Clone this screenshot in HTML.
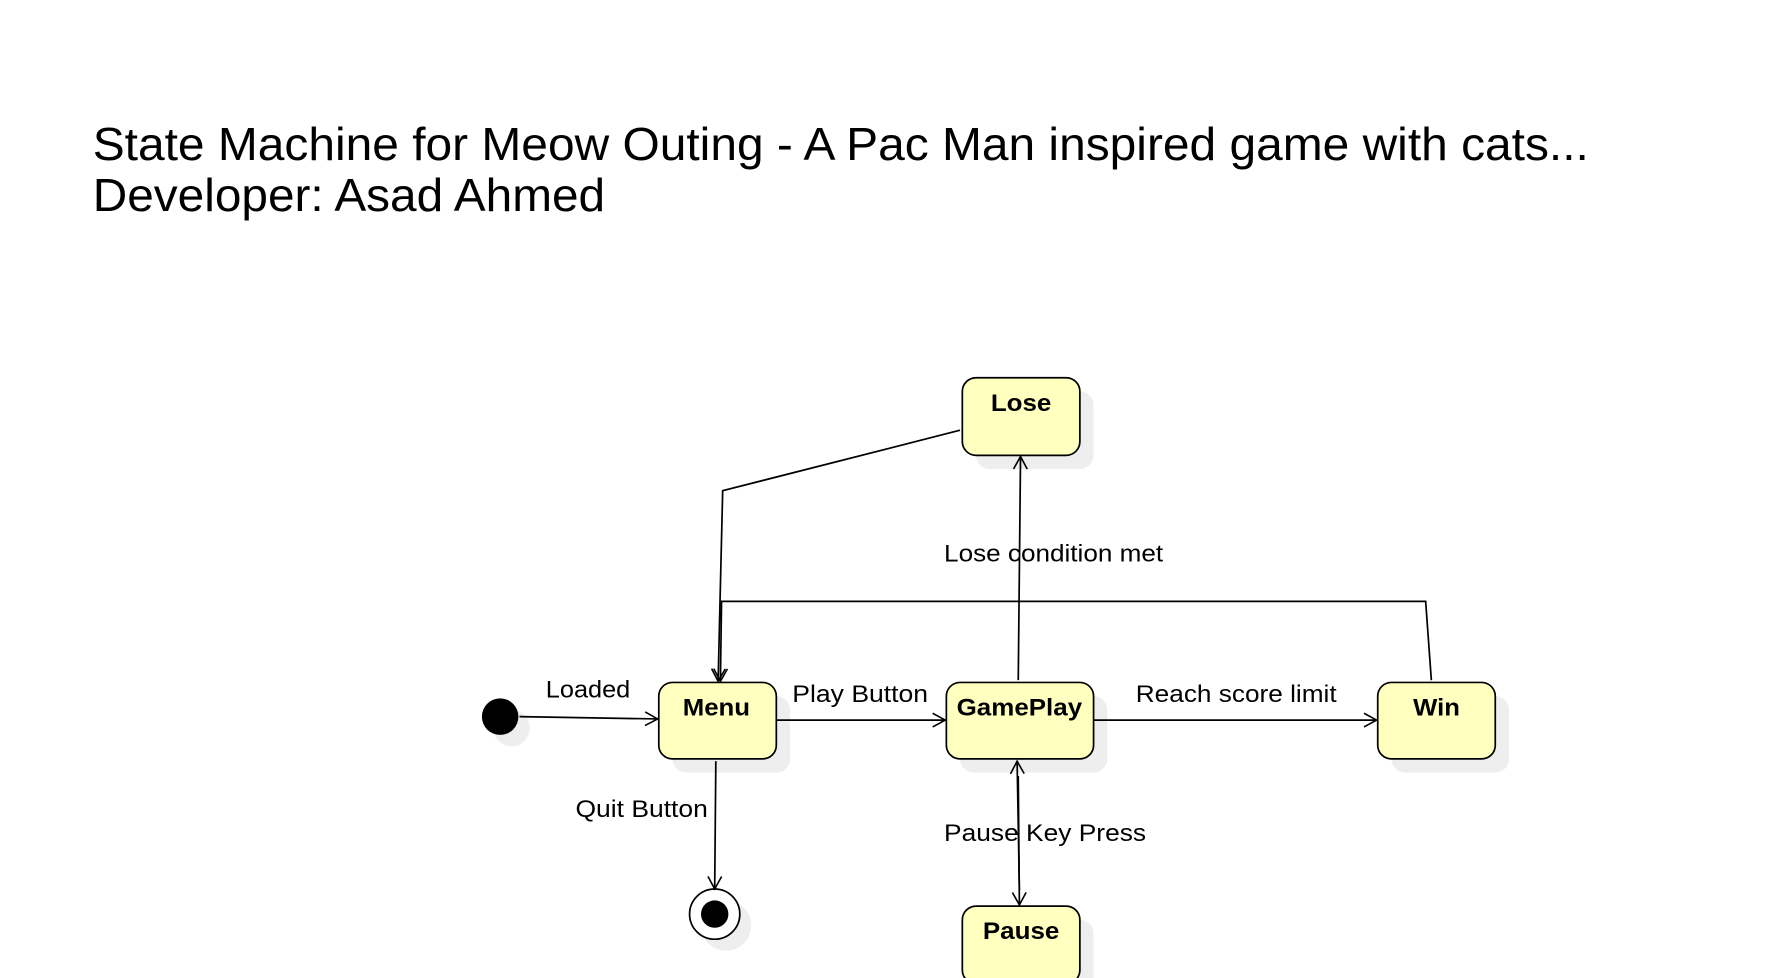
<!DOCTYPE html>
<html><head><meta charset="utf-8"><style>html,body{margin:0;padding:0;background:#fff}svg{display:block}</style></head>
<body>
<svg width="1790" height="978" viewBox="0 0 1568 857" xmlns="http://www.w3.org/2000/svg" font-family="Liberation Sans, sans-serif">
<defs>
<marker id="a" markerWidth="14" markerHeight="14" refX="12" refY="7" orient="auto" markerUnits="userSpaceOnUse"><path d="M1,1 L12,7 L1,13" fill="none" stroke="#000" stroke-width="1.4"/></marker>
</defs>
<rect width="1568" height="857" fill="#fff"/>
<text x="81" y="140" font-size="41" fill="#000" textLength="1311" lengthAdjust="spacingAndGlyphs">State Machine for Meow Outing - A Pac Man inspired game with cats...</text>
<text x="81" y="185" font-size="41" fill="#000" textLength="449" lengthAdjust="spacingAndGlyphs">Developer: Asad Ahmed</text>
<g fill="#eeeeee">
<rect x="855" y="343" width="103" height="68" rx="12"/>
<rect x="589" y="610" width="103" height="67" rx="12"/>
<rect x="841" y="610" width="129" height="67" rx="12"/>
<rect x="1219" y="610" width="103" height="67" rx="12"/>
<rect x="855" y="806" width="103" height="68" rx="12"/>
<circle cx="448" cy="638" r="16"/>
<circle cx="636" cy="811" r="22"/>
</g>
<g fill="#ffffc0" stroke="#000" stroke-width="1.5">
<rect x="843" y="331" width="103" height="68" rx="12"/>
<rect x="577" y="598" width="103" height="67" rx="12"/>
<rect x="829" y="598" width="129" height="67" rx="12"/>
<rect x="1207" y="598" width="103" height="67" rx="12"/>
<rect x="843" y="794" width="103" height="68" rx="12"/>
</g>
<g font-size="21" font-weight="bold">
<text x="868" y="360" textLength="53" lengthAdjust="spacingAndGlyphs">Lose</text>
<text x="598" y="627" textLength="59" lengthAdjust="spacingAndGlyphs">Menu</text>
<text x="838" y="627" textLength="110" lengthAdjust="spacingAndGlyphs">GamePlay</text>
<text x="1238" y="627" textLength="41" lengthAdjust="spacingAndGlyphs">Win</text>
<text x="861" y="823" textLength="67" lengthAdjust="spacingAndGlyphs">Pause</text>
</g>
<circle cx="438" cy="628" r="16" fill="#000"/>
<circle cx="626" cy="801" r="22" fill="#fff" stroke="#000" stroke-width="1.5"/>
<circle cx="626" cy="801" r="12" fill="#000"/>
<g fill="none" stroke="#000" stroke-width="1.5">
<path d="M455,628 L576,630" marker-end="url(#a)"/>
<path d="M680,631 L828,631" marker-end="url(#a)"/>
<path d="M958,631 L1206,631" marker-end="url(#a)"/>
<path d="M841,377 L633,430 L629,597" marker-end="url(#a)"/>
<path d="M1254,596 L1249,527 L632,527 L631,597" marker-end="url(#a)"/>
<path d="M892,596 L894,400" marker-end="url(#a)"/>
<path d="M892,680 L893,793" marker-end="url(#a)"/>
<path d="M893,780 L891,667" marker-end="url(#a)"/>
<path d="M627,667 L626,779" marker-end="url(#a)"/>
</g>
<g font-size="21">
<text x="478" y="611" textLength="74" lengthAdjust="spacingAndGlyphs">Loaded</text>
<text x="694" y="615" textLength="119" lengthAdjust="spacingAndGlyphs">Play Button</text>
<text x="995" y="615" textLength="176" lengthAdjust="spacingAndGlyphs">Reach score limit</text>
<text x="827" y="492" textLength="192" lengthAdjust="spacingAndGlyphs">Lose condition met</text>
<text x="504" y="716" textLength="116" lengthAdjust="spacingAndGlyphs">Quit Button</text>
<text x="827" y="737" textLength="177" lengthAdjust="spacingAndGlyphs">Pause Key Press</text>
</g>
</svg>
</body></html>
